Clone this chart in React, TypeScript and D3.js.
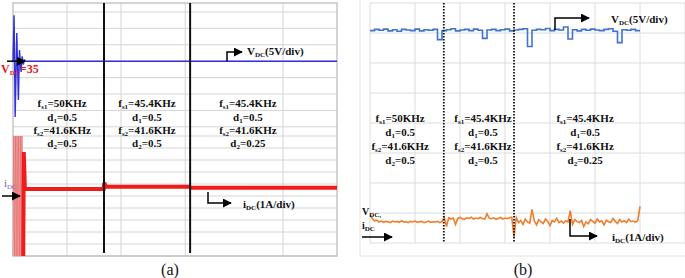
import React from 'react';
import * as d3 from 'd3';

// ---------- Panel (a) data ----------
// time in divisions (0..6), voltage in V (5V/div), current in A (1A/div)
const vdcTimeA = [0, 0.02, 0.04, 0.07, 0.1, 0.12, 0.15, 0.17, 0.19, 0.21, 0.24, 6];
const vdcValA = [35, 49, 18, 43.6, 23.2, 38.4, 31.7, 36.5, 34, 35.4, 35, 35];
const burstTimeA = [0, 0.015, 0.03, 0.045, 0.06, 0.075, 0.09, 0.105, 0.12, 0.135, 0.15, 0.165, 0.18];
const burstValA = [0, 10, 0, 10, 0, 10, 0, 10, 0, 10, 0, 10, 0];
const idcTimeA = [0.19, 0.2, 0.22, 1.68, 1.69, 1.72, 3.27, 3.3, 6];
const idcValA = [0, 8.67, 5.58, 5.58, 6.1, 5.78, 5.78, 5.68, 5.68];
const switchTimesA = [1.685, 3.28];
const gridXA = [1, 2, 3.19, 5];
const colCenterA = [0.91, 2.48, 4.35];

// ---------- Panel (b) data ----------
const vdcB = [
  7.08, 7.12, 7.09, 7.13, 7.07, 7.11, 7.06, 7.12, 7.10, 7.08,
  7.13, 7.07, 7.11, 7.09, 7.12, 6.78, 7.08, 7.11, 7.14, 7.07,
  7.10, 7.12, 7.08, 7.13, 7.09, 6.82, 7.10, 7.12, 7.08, 7.11,
  7.13, 7.07, 7.10, 7.12, 7.14, 6.55, 7.09, 7.12, 7.11, 7.15,
  7.08, 7.12, 7.10, 7.20, 6.80, 7.11, 7.07, 7.12, 7.09, 7.13,
  7.10, 7.08, 7.12, 7.14, 7.06, 6.68, 7.11, 7.09, 7.12, 7.08,
  7.08,
];
const idcB = [
  0.95, 0.82, 0.74, 0.76, 0.70, 0.73, 0.69, 0.72, 0.71, 0.68,
  0.73, 0.70, 0.72, 0.69, 0.74, 0.70, 0.71, 0.68, 0.72, 0.70,
  0.73, 0.69, 0.71, 0.72, 0.68, 0.70, 0.73, 0.69, 0.71, 0.70,
  0.72, 0.68, 0.71,
  0.86, 0.55, 0.84, 0.80, 0.83, 0.62, 0.82, 0.85, 0.81, 0.79,
  0.84, 0.82, 0.86, 0.80, 0.83, 0.81, 0.85, 0.82, 0.80, 0.97,
  0.83, 0.81, 0.84, 0.79, 0.82, 0.85, 0.80, 0.83, 0.81, 0.84,
  0.86,
  0.20, 0.85, 0.68, 0.75, 0.62, 0.80, 0.70, 0.66, 1.12, 0.74,
  0.60, 0.78, 0.70, 0.65, 0.80, 0.72, 0.58, 0.75, 0.70, 0.82,
  0.68, 0.73, 0.66, 0.74, 0.70, 1.08, 0.62, 0.78, 0.72, 0.68,
  0.75, 0.55, 0.70, 0.64, 0.78, 0.72, 0.66, 0.80, 0.70, 0.74,
  0.60, 0.76, 0.71, 0.68, 0.82, 0.72, 0.65, 0.78, 0.70, 0.74,
  0.68, 0.80, 0.71, 0.73, 0.69, 0.75, 1.22,
];
const switchTimesB = [1.64, 3.2];
const colCenterB = [0.67, 2.51, 4.78];

// ---------- Labels ----------
const fs1Labels = ['50KHz', '45.4KHz', '45.4KHz'];
const d1Labels = ['0.5', '0.5', '0.5'];
const fs2Labels = ['41.6KHz', '41.6KHz', '41.6KHz'];
const d2Labels = ['0.5', '0.5', '0.25'];

const FONT = '"Liberation Serif", "Times New Roman", serif';

function Sub({ base, sub, rest, fs = 11, subFs = 7 }: { base: string; sub: string; rest: string; fs?: number; subFs?: number }) {
  return (
    <>
      <tspan>{base}</tspan>
      <tspan fontSize={subFs} dy={2}>{sub}</tspan>
      <tspan fontSize={fs} dy={-2}>{rest}</tspan>
    </>
  );
}

function Params({ x, ys }: { x: (v: number) => number; ys: number[] }) {
  return (
    <g fontFamily={FONT} fontWeight="bold" fontSize={11} fill="#111" textAnchor="middle">
      {fs1Labels.map((_, i) => (
        <g key={i}>
          <text x={x(i)} y={ys[0]}><Sub base="f" sub="s1" rest={'=' + fs1Labels[i]} /></text>
          <text x={x(i)} y={ys[1]}><Sub base="d" sub="1" rest={'=' + d1Labels[i]} /></text>
          <text x={x(i)} y={ys[2]}><Sub base="f" sub="s2" rest={'=' + fs2Labels[i]} /></text>
          <text x={x(i)} y={ys[3]}><Sub base="d" sub="2" rest={'=' + d2Labels[i]} /></text>
        </g>
      ))}
    </g>
  );
}

export default function App() {
  // Panel (a) scales
  const xA = d3.scaleLinear().domain([0, 6]).range([13, 337]);
  const yVA = d3.scaleLinear().domain([15, 50]).range([126.8, 12]);
  const yIA = d3.scaleLinear().domain([0, 10]).range([256, 136]);
  // Panel (b) scales
  const xB = d3.scaleLinear().domain([0, 7]).range([370, 685]);
  const yB = d3.scaleLinear().domain([0, 8]).range([243, 3]);

  const vLineA = d3.line<number>().x((_, i) => xA(vdcTimeA[i])).y((d) => yVA(d));
  const burstLine = d3.line<number>().x((_, i) => xA(burstTimeA[i])).y((d) => yIA(d));
  const iLineA = d3.line<number>().x((_, i) => xA(idcTimeA[i])).y((d) => yIA(d));

  const vLineB = d3.line<number>().x((_, i) => xB((i * 6) / (vdcB.length - 1))).y((d) => yB(d)).curve(d3.curveStepAfter);
  const iLineB = d3.line<number>().x((_, i) => xB((i * 6) / (idcB.length - 1))).y((d) => yB(d));

  const gridYTopA = d3.range(0, 8).map((k) => yVA(50 - k * 5));
  const gridYBotA = d3.range(0, 11).map((k) => yIA(k));
  const gridXB = d3.range(0, 8);
  const gridYB = d3.range(0, 9);

  const grid = '#d4d4d4';

  return (
    <svg width={685} height={278} style={{ position: 'absolute', left: 0, top: 0, background: '#fff' }} fontFamily={FONT}>
      <defs>
        <marker id="ah" viewBox="0 0 10 10" refX="9" refY="5" markerWidth="6" markerHeight="6" orient="auto">
          <path d="M0,0 L10,5 L0,10 z" fill="#000" />
        </marker>
      </defs>

      {/* ================= Panel (a) ================= */}
      <g>
        {gridYTopA.map((y, i) => (
          <line key={'ta' + i} x1={xA(0)} x2={xA(6)} y1={y} y2={y} stroke={grid} strokeWidth={1} />
        ))}
        {gridYBotA.map((y, i) => (
          <line key={'ba' + i} x1={xA(0)} x2={xA(6)} y1={y} y2={y} stroke={grid} strokeWidth={1} />
        ))}
        {gridXA.map((t, i) => (
          <line key={'xa' + i} x1={xA(t)} x2={xA(t)} y1={3} y2={256} stroke={grid} strokeWidth={1} />
        ))}
        <rect x={xA(0)} y={3} width={xA(6) - xA(0)} height={253} fill="none" stroke="#b8b8b8" strokeWidth={1.2} />

        {/* current burst */}
        <rect x={xA(burstTimeA[0])} y={yIA(10)} width={xA(burstTimeA[burstTimeA.length - 1]) - xA(burstTimeA[0])} height={yIA(0) - yIA(10)} fill="#f3b3b3" />
        <path d={burstLine(burstValA) || ''} fill="none" stroke="#dc3b3b" strokeOpacity={0.55} strokeWidth={0.6} />
        {/* current trace */}
        <path d={iLineA(idcValA) || ''} fill="none" stroke="#ee1c1c" strokeWidth={4} />
        {/* voltage trace */}
        <path d={vLineA(vdcValA) || ''} fill="none" stroke="#2f2fdc" strokeWidth={1.4} />

        {switchTimesA.map((t, i) => (
          <line key={'sa' + i} x1={xA(t)} x2={xA(t)} y1={3} y2={253} stroke="#111" strokeWidth={2} />
        ))}

        <Params x={(i) => xA(colCenterA[i])} ys={[107, 121, 134, 147]} />

        {/* VDC label + arrow */}
        <line x1={7} x2={25} y1={yVA(35)} y2={yVA(35)} stroke="#000" strokeWidth={1.5} markerEnd="url(#ah)" />
        <text x={1} y={73} fill="#e0201c" fontWeight="bold" fontSize={12}>
          <Sub base="V" sub="DC" rest="=35" fs={12} subFs={7} />
        </text>
        <path d={`M227,${yVA(35)} V52 H242`} fill="none" stroke="#000" strokeWidth={1.5} markerEnd="url(#ah)" />
        <text x={247} y={55} fontWeight="bold" fontSize={11} fill="#111">
          <Sub base="V" sub="DC" rest="(5V/div)" />
        </text>

        {/* iDC label + arrow */}
        <text x={4} y={187} fill="#8a4fc4" fontSize={11}>
          <Sub base="i" sub="DC" rest="" />
        </text>
        <line x1={2} x2={20} y1={196} y2={196} stroke="#000" strokeWidth={1.5} markerEnd="url(#ah)" />
        <path d="M208,192 V203 H231" fill="none" stroke="#000" strokeWidth={1.5} markerEnd="url(#ah)" />
        <text x={243} y={208} fontWeight="bold" fontSize={11} fill="#111">
          <Sub base="i" sub="DC" rest="(1A/div)" />
        </text>

        <text x={170} y={275} textAnchor="middle" fontSize={16} fill="#111">(a)</text>
      </g>

      {/* ================= Panel (b) ================= */}
      <g>
        <rect x={360} y={-2} width={340} height={258} fill="none" stroke="#e2e2e2" strokeWidth={1} />
        {gridXB.map((k) => (
          <line key={'xb' + k} x1={xB(k)} x2={xB(k)} y1={yB(8)} y2={yB(0)} stroke="#dcdcdc" strokeWidth={1} />
        ))}
        {gridYB.map((k) => (
          <line key={'yb' + k} x1={xB(0)} x2={xB(7)} y1={yB(k)} y2={yB(k)} stroke="#dcdcdc" strokeWidth={1} />
        ))}

        <path d={vLineB(vdcB) || ''} fill="none" stroke="#3f73cf" strokeWidth={1.6} />
        <path d={iLineB(idcB) || ''} fill="none" stroke="#ef7d2c" strokeWidth={1.6} />

        {switchTimesB.map((t, i) => (
          <line key={'sb' + i} x1={xB(t)} x2={xB(t)} y1={yB(8)} y2={yB(0)} stroke="#111" strokeWidth={1.8} strokeDasharray="1.5,1.5" />
        ))}

        <Params x={(i) => xB(colCenterB[i])} ys={[122, 136, 150, 164]} />

        <path d={`M555,${yB(7.1)} V18 H589`} fill="none" stroke="#000" strokeWidth={1.5} markerEnd="url(#ah)" />
        <text x={611} y={23} fontWeight="bold" fontSize={11} fill="#111">
          <Sub base="V" sub="DC" rest="(5V/div)" />
        </text>

        <text x={362} y={215} fontWeight="bold" fontSize={10} fill="#111">
          <Sub base="V" sub="DC," rest="" fs={10} subFs={7} />
        </text>
        <text x={362} y={229} fontWeight="bold" fontSize={10} fill="#111">
          <Sub base="i" sub="DC" rest="" fs={10} subFs={7} />
        </text>
        <line x1={362} x2={392} y1={237} y2={237} stroke="#000" strokeWidth={1.5} markerEnd="url(#ah)" />

        <path d="M570,219 V236 H597" fill="none" stroke="#000" strokeWidth={1.5} markerEnd="url(#ah)" />
        <text x={612} y={241} fontWeight="bold" fontSize={11} fill="#111">
          <Sub base="i" sub="DC" rest="(1A/div)" />
        </text>

        <text x={523} y={275} textAnchor="middle" fontSize={16} fill="#111">(b)</text>
      </g>
    </svg>
  );
}
